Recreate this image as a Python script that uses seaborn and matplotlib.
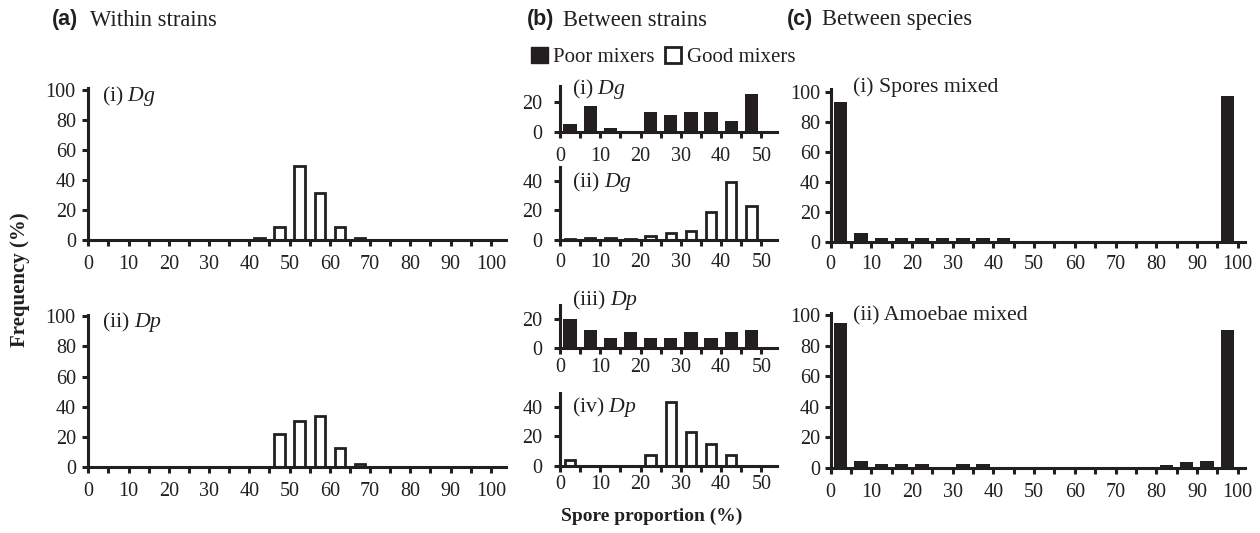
import seaborn as sns
import matplotlib.pyplot as plt
from matplotlib.patches import Patch

sns.set_style('ticks')
plt.rcParams['font.family'] = ['Liberation Serif', 'DejaVu Serif']
plt.rcParams['mathtext.fontset'] = 'custom'
plt.rcParams['mathtext.rm'] = 'Liberation Serif'
plt.rcParams['mathtext.it'] = 'Liberation Serif:italic'

INK = '#231f20'

# bin centres (5% bins)
bins_full = [2.5, 7.5, 12.5, 17.5, 22.5, 27.5, 32.5, 37.5, 42.5, 47.5,
             52.5, 57.5, 62.5, 67.5, 72.5, 77.5, 82.5, 87.5, 92.5, 97.5]
bins_half = [2.5, 7.5, 12.5, 17.5, 22.5, 27.5, 32.5, 37.5, 42.5, 47.5]

# (a) within strains
within_dg = [0, 0, 0, 0, 0, 0, 0, 0, 1, 8.5, 49, 31.5, 8.5, 1.5, 0, 0, 0, 0, 0, 0]
within_dp = [0, 0, 0, 0, 0, 0, 0, 0, 0, 22, 30.5, 34, 13, 2, 0, 0, 0, 0, 0, 0]

# (b) between strains
between_dg_poor = [5.4, 17.4, 3, 0, 13, 11, 13, 13, 7.6, 25]
between_dg_good = [0.8, 1.5, 1.5, 0.8, 2.5, 5, 6, 18.7, 39, 23.2]
between_dp_poor = [20, 13, 7.4, 11, 7.4, 7.4, 11, 7.4, 11, 13]
between_dp_good = [4, 0, 0, 0, 7.2, 43.3, 23, 15, 7.2, 0]

# (c) between species
spores_mixed = [93, 6, 2.5, 2.5, 2.5, 2.5, 2.5, 2.5, 2.5, 0,
                0, 0, 0, 0, 0, 0, 0, 0, 0, 97]
amoebae_mixed = [95, 4.4, 2.5, 2.5, 2.5, -1.5, 2.5, 2.5, 0, 0,
                 0, 0, 0, 0, 0, 0, 2.2, 3.7, 4.4, 90.5]

ticks_full = [0, 10, 20, 30, 40, 50, 60, 70, 80, 90, 100]
minor_full = [5, 15, 25, 35, 45, 55, 65, 75, 85, 95]
ticks_half = [0, 10, 20, 30, 40, 50]
minor_half = [5, 15, 25, 35, 45]

W, H = 1260, 533
fig = plt.figure(figsize=(W / 100, H / 100), dpi=100)


def add_ax(left, top, right, bottom):
    return fig.add_axes([left / W, 1 - bottom / H, (right - left) / W, (bottom - top) / H])


def draw(ax, x, y, filled, xlim, ylim, yticks, xticks, xminor, xpad=6, ypad=4.5):
    if filled:
        sns.barplot(x=x, y=y, native_scale=True, orient='x', width=0.66, color=INK,
                    saturation=1, linewidth=0, errorbar=None, ax=ax)
    else:
        sns.barplot(x=x, y=y, native_scale=True, orient='x', width=0.52, color=INK,
                    saturation=1, fill=False, linewidth=2, errorbar=None, ax=ax)
    ax.set_xlim(*xlim)
    ax.set_ylim(*ylim)
    ax.set_xticks(xticks)
    ax.set_xticks(xminor, minor=True)
    ax.set_yticks(yticks)
    ax.set_xlabel('')
    ax.set_ylabel('')
    sns.despine(ax=ax)
    for s in ['left', 'bottom']:
        ax.spines[s].set_linewidth(2.2)
        ax.spines[s].set_color(INK)
    ax.tick_params(axis='both', which='both', direction='out', length=4.5, width=2.2,
                   color=INK, labelsize=14.5, labelcolor=INK)
    ax.tick_params(axis='x', pad=xpad)
    ax.tick_params(axis='y', pad=ypad)
    ax.patch.set_alpha(0)


# (a)
ax = add_ax(88.3, 88.3, 505.7, 240)
draw(ax, bins_full, within_dg, False, (0, 103.7), (0, 101.1),
     [0, 20, 40, 60, 80, 100], ticks_full, minor_full)
ax = add_ax(88.3, 314.5, 505.7, 467.3)
draw(ax, bins_full, within_dp, False, (0, 103.7), (0, 101.1),
     [0, 20, 40, 60, 80, 100], ticks_full, minor_full)

# (b)
ax = add_ax(560, 86.3, 776.7, 132.3)
draw(ax, bins_half, between_dg_poor, True, (0, 53.8), (0, 30), [0, 20],
     ticks_half, minor_half, xpad=6, ypad=8)
ax = add_ax(560, 167.3, 776.7, 240)
draw(ax, bins_half, between_dg_good, False, (0, 53.8), (0, 49), [0, 20, 40],
     ticks_half, minor_half, xpad=5, ypad=8)
ax = add_ax(560, 305, 776.7, 348.3)
draw(ax, bins_half, between_dp_poor, True, (0, 53.8), (0, 30), [0, 20],
     ticks_half, minor_half, xpad=2.5, ypad=8)
ax = add_ax(560, 393.3, 776.7, 465.7)
draw(ax, bins_half, between_dp_good, False, (0, 53.8), (0, 49), [0, 20, 40],
     ticks_half, minor_half, xpad=2.5, ypad=8)

# (c)
ax = add_ax(830.5, 89.3, 1245, 241.7)
draw(ax, bins_full, spores_mixed, True, (0, 101.8), (0, 101.6),
     [0, 20, 40, 60, 80, 100], ticks_full, minor_full, xpad=5, ypad=3)
ax = add_ax(830.5, 313, 1245, 468)
draw(ax, bins_full, amoebae_mixed, True, (0, 101.8), (0, 101.6),
     [0, 20, 40, 60, 80, 100], ticks_full, minor_full, xpad=6, ypad=3)


def ftext(x, y, s, **kw):
    kw.setdefault('color', INK)
    kw.setdefault('va', 'center')
    fig.text(x / W, 1 - y / H, s, **kw)


# section headings
for x0, x1, letter, title in [(52, 90, '(a)', 'Within strains'),
                              (527, 563, '(b)', 'Between strains'),
                              (787, 822, '(c)', 'Between species')]:
    ftext(x0, 20, letter, fontsize=15.5, fontweight='bold', family=['Liberation Sans'])
    ftext(x1, 20, title, fontsize=16.3)

# panel labels
ftext(102, 96, '(i) $Dg$', fontsize=15.7)
ftext(102, 322, '(ii) $Dp$', fontsize=15.7)
ftext(572, 89, '(i) $Dg$', fontsize=15.7)
ftext(572, 182, '(ii) $Dg$', fontsize=15.7)
ftext(572, 300, '(iii) $Dp$', fontsize=15.7)
ftext(572, 407, '(iv) $Dp$', fontsize=15.7)
ftext(853, 87, '(i) Spores mixed', fontsize=15.7)
ftext(853, 316, '(ii) Amoebae mixed', fontsize=15.7)

# axis titles
ftext(20, 280, 'Frequency (%)', fontsize=15, fontweight='bold', rotation=90, ha='center')
ftext(652, 516, 'Spore proportion (%)', fontsize=14, fontweight='bold', ha='center')

# legend
fig.legend(handles=[Patch(facecolor=INK, edgecolor=INK),
                    Patch(facecolor='white', edgecolor=INK, linewidth=2)],
           labels=['Poor mixers', 'Good mixers'], loc='center left',
           bbox_to_anchor=(531 / W, 1 - 57 / H), ncols=2, frameon=False,
           handlelength=0.8, handleheight=0.8, handletextpad=0.25,
           columnspacing=0.5, borderpad=0, borderaxespad=0, fontsize=15,
           labelcolor=INK)

fig.savefig('out.png', dpi=100)
